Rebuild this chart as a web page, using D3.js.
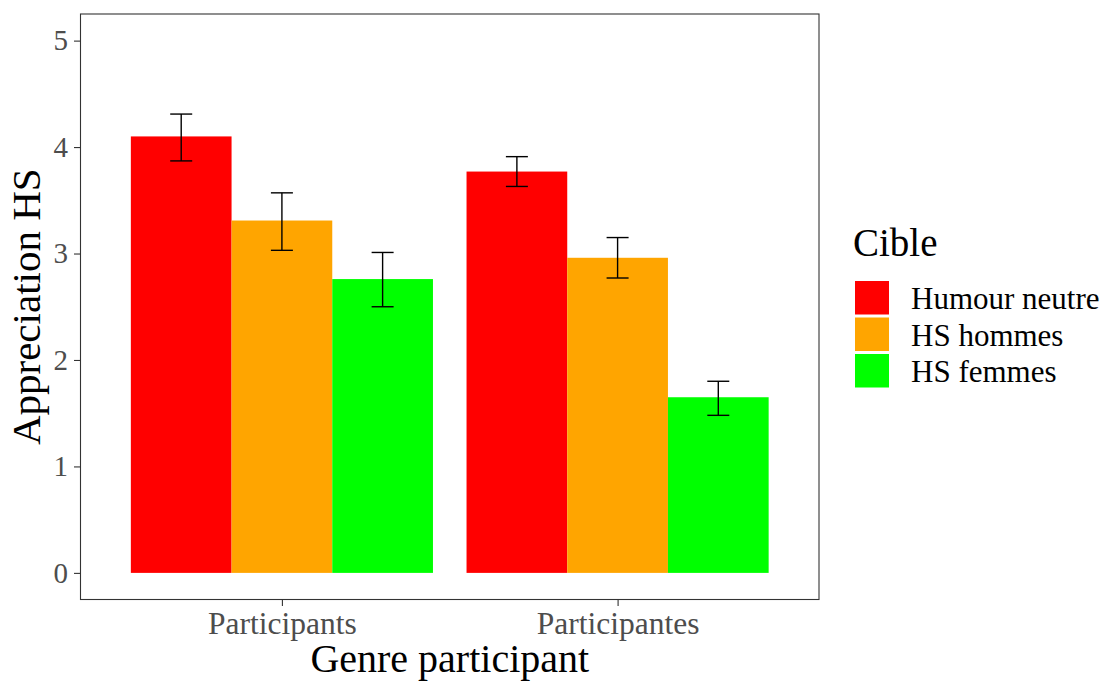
<!DOCTYPE html>
<html>
<head>
<meta charset="utf-8">
<script src="https://cdn.jsdelivr.net/npm/d3@7"></script>
<style>
  html, body { margin: 0; padding: 0; background: #fff; }
  svg { display: block; font-family: "Liberation Serif", "Times New Roman", serif; }
</style>
</head>
<body>
<svg id="chart" width="1100" height="682"></svg>
<script>
// Groups on the x axis and target conditions (fill)
const groups = ["Participants", "Participantes"];
const targets = ["Humour neutre", "HS hommes", "HS femmes"];
const colors = ["#FF0000", "#FFA500", "#00FF00"];

// Mean appreciation per group (rows) and target (columns)
const meanParticipants = [4.10, 3.31, 2.76];
const meanParticipantes = [3.77, 2.96, 1.65];
// Error bar bounds
const lowParticipants = [3.87, 3.03, 2.50];
const highParticipants = [4.31, 3.57, 3.01];
const lowParticipantes = [3.63, 2.77, 1.48];
const highParticipantes = [3.91, 3.15, 1.80];

const yTicks = [0, 1, 2, 3, 4, 5];

const rows = [];
[[meanParticipants, lowParticipants, highParticipants],
 [meanParticipantes, lowParticipantes, highParticipantes]].forEach((arr, gi) => {
  targets.forEach((t, ti) => {
    rows.push({ group: groups[gi], gi, target: t, ti,
                mean: arr[0][ti], low: arr[1][ti], high: arr[2][ti] });
  });
});

const svg = d3.select("#chart");
const panel = { left: 80.5, right: 819, top: 14, bottom: 599.5 };

// Discrete x positions 1..n with 0.6 padding on each side
const x = d3.scaleLinear().domain([0.4, groups.length + 0.6]).range([panel.left, panel.right]);
const y = d3.scaleLinear().domain([-0.25, 5.25]).range([panel.bottom, panel.top]);

const dodgeWidth = 0.9;
const barW = dodgeWidth / targets.length;
const barX = d => (d.gi + 1) - dodgeWidth / 2 + d.ti * barW;

// Bars
svg.append("g").selectAll("rect").data(rows).join("rect")
  .attr("x", d => x(barX(d)))
  .attr("width", d => x(barX(d) + barW) - x(barX(d)))
  .attr("y", d => y(d.mean))
  .attr("height", d => y(0) - y(d.mean))
  .attr("fill", d => colors[d.ti]);

// Error bars
const capHalf = 11;
const eb = svg.append("g").attr("stroke", "#000").attr("stroke-width", 1.4).attr("fill", "none");
rows.forEach(d => {
  const cx = x(barX(d) + barW / 2);
  eb.append("line").attr("x1", cx).attr("x2", cx).attr("y1", y(d.low)).attr("y2", y(d.high));
  eb.append("line").attr("x1", cx - capHalf).attr("x2", cx + capHalf).attr("y1", y(d.low)).attr("y2", y(d.low));
  eb.append("line").attr("x1", cx - capHalf).attr("x2", cx + capHalf).attr("y1", y(d.high)).attr("y2", y(d.high));
});

// Panel border
svg.append("rect")
  .attr("x", panel.left).attr("y", panel.top)
  .attr("width", panel.right - panel.left).attr("height", panel.bottom - panel.top)
  .attr("fill", "none").attr("stroke", "#333333").attr("stroke-width", 1.1);

// Y axis
const yAxis = d3.axisLeft(y).tickValues(yTicks).tickFormat(d3.format("d")).tickSize(6.5).tickPadding(6);
const gy = svg.append("g").attr("transform", `translate(${panel.left},0)`).call(yAxis);
gy.select(".domain").remove();
gy.selectAll(".tick line").attr("stroke", "#333333").attr("stroke-width", 1.1);
gy.selectAll(".tick text").attr("fill", "#4D4D4D").style("font-size", "29px")
  .style("font-family", "Liberation Serif");

// X axis
const xAxis = d3.axisBottom(x).tickValues(groups.map((g, i) => i + 1))
  .tickFormat((v) => groups[v - 1]).tickSize(6.5);
const gx = svg.append("g").attr("transform", `translate(0,${panel.bottom})`).call(xAxis);
gx.select(".domain").remove();
gx.selectAll(".tick line").attr("stroke", "#333333").attr("stroke-width", 1.1);
gx.selectAll(".tick text").attr("fill", "#4D4D4D").style("font-size", "31.5px")
  .style("font-family", "Liberation Serif").attr("y", 34.5).attr("dy", null);

// Axis titles
svg.append("text")
  .attr("x", (panel.left + panel.right) / 2).attr("y", 672)
  .attr("text-anchor", "middle").attr("fill", "#000")
  .style("font-size", "40px").text("Genre participant");
svg.append("text")
  .attr("transform", `translate(40,${(panel.top + panel.bottom) / 2}) rotate(-90)`)
  .attr("text-anchor", "middle").attr("fill", "#000")
  .style("font-size", "41px").text("Appreciation HS");

// Legend
const legend = svg.append("g").attr("transform", "translate(855,0)");
legend.append("text").attr("x", -2).attr("y", 256).attr("fill", "#000")
  .style("font-size", "39px").text("Cible");
const keyH = 36.5;
targets.forEach((t, i) => {
  const top = 279.5 + i * keyH;
  legend.append("rect").attr("x", 0).attr("y", top + 1.5)
    .attr("width", 34).attr("height", keyH - 3).attr("fill", colors[i]);
  legend.append("text").attr("x", 56).attr("y", top + keyH / 2 + 1)
    .attr("dominant-baseline", "central").attr("fill", "#000")
    .style("font-size", "31px").text(t);
});
</script>
</body>
</html>
